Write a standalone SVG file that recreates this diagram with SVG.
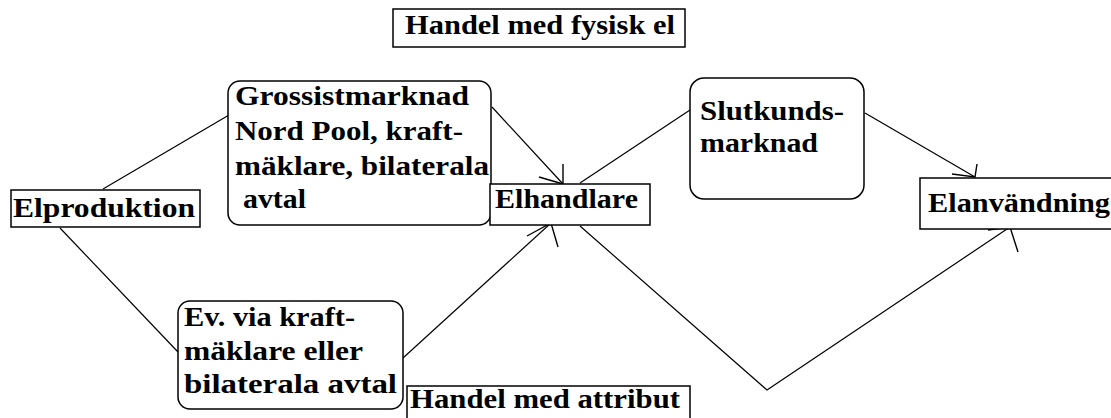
<svg xmlns="http://www.w3.org/2000/svg" width="1111" height="418" viewBox="0 0 1111 418">
<style>
.box{fill:#fff;stroke:#000;stroke-width:1.5}
.ln{fill:none;stroke:#000;stroke-width:1.2}
.hd{fill:none;stroke:#000;stroke-width:1.4}
text{font-family:"Liberation Serif","Times New Roman",serif;font-weight:bold;font-size:28px;fill:#000}
</style>
<rect width="1111" height="418" fill="#fff"/>
<g id="connectors">
<line class="ln" x1="103" y1="189" x2="229" y2="115"/>
<line class="ln" x1="60" y1="228" x2="178" y2="352"/>
<line class="ln" x1="492" y1="107" x2="563" y2="184"/>
<polyline class="hd" points="563,164 563,184 539,177"/>
<line class="ln" x1="403" y1="358" x2="551" y2="223"/>
<polyline class="hd" points="527,236 551,223 558,247"/>
<line class="ln" x1="580" y1="183" x2="690" y2="110"/>
<line class="ln" x1="865" y1="113" x2="975" y2="177"/>
<polyline class="hd" points="977,164 975,177 952,174"/>
<polyline class="ln" points="580,226 767,390 1010,227"/>
<polyline class="hd" points="988,230 1010,227 1018,252"/>
</g>
<g id="title-fysisk">
<rect class="box" x="393" y="9" width="292" height="38"/>
<text x="405" y="34" textLength="270" lengthAdjust="spacingAndGlyphs">Handel med fysisk el</text>
</g>
<g id="elproduktion">
<rect class="box" x="11" y="190" width="189" height="37"/>
<text x="13" y="217" textLength="182" lengthAdjust="spacingAndGlyphs">Elproduktion</text>
</g>
<g id="grossist">
<rect class="box" x="228" y="81" width="263" height="144" rx="12"/>
<text x="235" y="105" textLength="234" lengthAdjust="spacingAndGlyphs">Grossistmarknad</text>
<text x="235" y="140" textLength="228" lengthAdjust="spacingAndGlyphs">Nord Pool, kraft-</text>
<text x="235" y="175" textLength="254" lengthAdjust="spacingAndGlyphs">mäklare, bilaterala</text>
<text x="243" y="208" textLength="63" lengthAdjust="spacingAndGlyphs">avtal</text>
</g>
<g id="elhandlare">
<rect class="box" x="490" y="184" width="160" height="41"/>
<text x="495" y="208" textLength="143" lengthAdjust="spacingAndGlyphs">Elhandlare</text>
</g>
<g id="slutkund">
<rect class="box" x="690" y="78" width="174" height="121" rx="14"/>
<text x="700" y="120" textLength="144" lengthAdjust="spacingAndGlyphs">Slutkunds-</text>
<text x="700" y="152" textLength="118" lengthAdjust="spacingAndGlyphs">marknad</text>
</g>
<g id="elanvandning">
<rect class="box" x="920" y="178" width="200" height="51"/>
<text x="928" y="212" textLength="182" lengthAdjust="spacingAndGlyphs">Elanvändning</text>
</g>
<g id="ev-via">
<rect class="box" x="178" y="301" width="225" height="108" rx="12"/>
<text x="184" y="326" textLength="171" lengthAdjust="spacingAndGlyphs">Ev. via kraft-</text>
<text x="184" y="360" textLength="179" lengthAdjust="spacingAndGlyphs">mäklare eller</text>
<text x="184" y="393" textLength="213" lengthAdjust="spacingAndGlyphs">bilaterala avtal</text>
</g>
<g id="title-attribut">
<rect class="box" x="407" y="386" width="283" height="40"/>
<text x="410" y="408" textLength="270" lengthAdjust="spacingAndGlyphs">Handel med attribut</text>
</g>
</svg>
